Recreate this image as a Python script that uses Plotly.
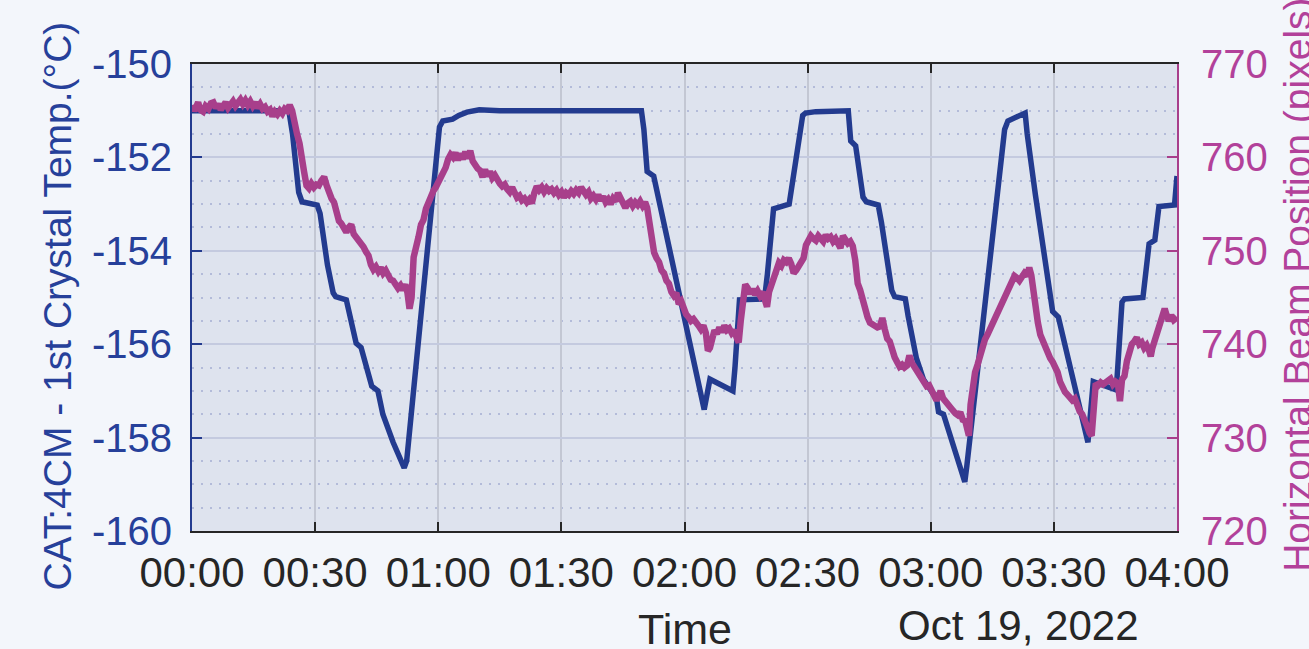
import pandas as pd
import plotly.graph_objects as go

# Crystal temperature (minutes after midnight, degC)
temp_min = [0, 23.6, 24.5, 26.0, 26.8, 30.5, 31.2, 33.0, 34.4, 35.0, 37.6, 38.4, 40.0, 41.2,
            42.5, 43.8, 45.3, 46.5, 49.0, 51.7, 52.3, 60.3, 61.1, 63.5, 65.0, 67.0, 70.0,
            75.0, 109.5, 110.1, 110.9, 112.5, 124.8, 126.2, 131.8, 132.3, 133.4, 139.5,
            140.2, 141.7, 145.5, 146.3, 148.8, 149.5, 152.0, 159.9, 160.5, 161.7, 162.3,
            163.5, 164.3, 167.2, 168.0, 170.5, 171.2, 173.8, 174.5, 176.5, 178.2, 180.5,
            181.3, 181.9, 183.1, 188.3, 188.8, 198.0, 198.8, 203.0, 203.5, 205.5, 209.7,
            211.1, 218.3, 219.6, 225.2, 226.6, 227.2, 231.7, 233.2, 234.6, 235.6, 239.4, 240.0]
temp_val = [-151.0, -151.0, -151.5, -152.75, -152.95, -153.02, -153.2, -154.3, -154.9, -154.98,
            -155.05, -155.4, -155.98, -156.07, -156.5, -156.9, -157.0, -157.5, -158.1, -158.65,
            -158.5, -151.35, -151.22, -151.18, -151.1, -151.03, -150.98, -151.0, -151.0,
            -151.4, -152.3, -152.4, -157.4, -156.75, -157.0, -156.5, -155.05, -155.03, -154.5,
            -153.1, -153.0, -152.5, -151.1, -151.05, -151.02, -151.0, -151.65, -151.75, -152.2,
            -152.85, -152.95, -153.02, -153.4, -154.85, -154.98, -155.03, -155.4, -156.3,
            -156.75, -157.05, -157.1, -157.45, -157.5, -158.95, -158.6, -151.4, -151.22,
            -151.05, -151.5, -152.8, -155.3, -155.42, -158.1, -156.8, -156.98, -155.1, -155.03,
            -155.0, -153.85, -153.77, -153.05, -153.02, -152.4]

# Horizontal beam position (minutes after midnight, pixels)
beam_min = [0, 0.5, 1, 1.5, 2, 2.7, 3.3, 4, 4.6, 5.2, 5.8, 6.4, 7, 7.6, 8.2, 8.8, 9.4, 10,
            10.6, 11.2, 11.8, 12.4, 13, 13.6, 14.2, 14.8, 15.4, 16, 16.6, 17.2, 17.8, 18.4,
            19, 19.6, 20.2, 20.8, 21.4, 22, 22.6, 23.2, 23.8, 24.4, 25, 25.6, 26.2, 26.8,
            27.3, 27.9, 28.5, 29.1, 29.7, 30.3, 30.9, 31.5, 32.2, 32.8, 33.4, 34.0, 34.6,
            35.2, 35.8, 36.4, 37.0, 37.6, 38.2, 38.8, 39.4, 40.0, 40.6, 41.2, 41.8, 42.4,
            43.0, 43.6, 44.2, 44.8, 45.4, 46.0, 46.6, 47.2, 47.8, 48.4, 49.0, 49.6, 50.2,
            50.8, 51.4, 52.0, 52.5, 53.0, 53.5, 54.0, 54.6, 55.2, 55.8, 56.4, 57.0, 57.6,
            58.2, 58.8, 59.4, 60.0, 60.6, 61.2, 61.8, 62.4, 63.0, 63.6, 64.2, 64.8, 65.4,
            66.0, 66.6, 67.2, 67.8, 68.4, 69.0, 69.6, 70.2, 70.8, 71.4, 72.0, 72.6, 73.2,
            73.8, 74.4, 75.0, 75.6, 76.2, 76.8, 77.4, 78.0, 78.6, 79.2, 79.8, 80.4, 81.0,
            81.6, 82.2, 82.8, 83.4, 84.0, 84.6, 85.2, 85.8, 86.4, 87.0, 87.6, 88.2, 88.8,
            89.4, 90.0, 90.6, 91.2, 91.8, 92.4, 93.0, 93.6, 94.2, 94.8, 95.4, 96.0, 96.6,
            97.2, 97.8, 98.4, 99.0, 99.6, 100.2, 100.8, 101.4, 102.0, 102.6, 103.2, 103.8,
            104.4, 105.0, 105.6, 106.2, 106.8, 107.4, 108.0, 108.6, 109.2, 109.8, 110.4,
            110.9, 111.4, 112.0, 112.6, 113.2, 113.8, 114.4, 115.0, 115.6, 116.2, 116.8,
            117.4, 118.0, 118.6, 119.2, 119.8, 120.4, 121.0, 121.6, 122.2, 122.8, 123.4,
            124.0, 124.6, 125.2, 125.7, 126.2, 126.7, 127.3, 127.9, 128.5, 129.1, 129.7,
            130.3, 130.9, 131.5, 132.1, 132.7, 133.2, 133.7, 134.3, 134.8, 135.4, 136.0,
            136.6, 137.2, 137.8, 138.4, 139.0, 139.6, 140.1, 140.6, 141.2, 141.8, 142.4,
            143.0, 143.6, 144.2, 144.8, 145.4, 146.0, 146.6, 147.2, 147.8, 148.4, 149.0,
            149.6, 150.2, 150.8, 151.4, 152.0, 152.6, 153.2, 153.8, 154.4, 155.0, 155.6,
            156.2, 156.8, 157.4, 158.0, 158.6, 159.2, 159.8, 160.4, 161.0, 161.6, 162.2,
            162.8, 163.4, 164.0, 164.6, 165.2, 165.8, 166.4, 167.0, 167.6, 168.2, 168.8,
            169.4, 170.0, 170.6, 171.2, 171.8, 172.4, 173.0, 173.6, 174.2, 174.8, 175.4,
            176.0, 176.6, 177.2, 177.8, 178.4, 179.0, 179.6, 180.2, 180.8, 181.4, 182.0,
            182.4, 183.0, 183.6, 184.2, 184.8, 185.4, 186.0, 186.6, 187.2, 187.8, 188.4,
            189.0, 189.3, 189.7, 190.3, 190.8, 191.4, 192.0, 192.6, 193.2, 193.8, 194.4,
            195.0, 195.6, 196.2, 196.8, 197.4, 198.0, 198.6, 199.2, 199.8, 200.4, 201.0,
            201.6, 202.2, 202.8, 203.4, 204.0, 204.5, 205.0, 205.5, 206.1, 206.7, 207.3,
            207.9, 208.5, 209.1, 209.7, 210.3, 210.9, 211.5, 212.1, 212.7, 213.3, 213.9,
            214.5, 215.1, 215.7, 216.3, 216.9, 217.5, 218.1, 218.7, 219.2, 219.7, 220.2,
            220.8, 221.4, 222.0, 222.6, 223.2, 223.8, 224.4, 225.0, 225.6, 226.1, 226.6,
            227.2, 227.8, 228.4, 229.0, 229.6, 230.2, 230.8, 231.4, 232.0, 232.6, 233.2,
            233.6, 234.0, 234.6, 235.2, 235.8, 236.4, 237.0, 237.4, 238.0, 238.6, 239.2, 240.0]
beam_val = [765.6, 765.0, 765.4, 765.9, 765.1, 764.9, 765.5, 765.2, 765.8, 765.9, 765.3, 765.7,
            765.1, 765.4, 765.9, 765.3, 765.6, 766.0, 765.5, 765.8, 766.2, 765.7, 766.1, 765.6,
            766.0, 765.5, 765.9, 765.3, 765.7, 765.2, 765.4, 764.9, 765.1, 764.4, 764.9, 764.6,
            765.0, 764.7, 765.2, 765.0, 765.6, 765.0, 763.5, 762.5, 761.5, 760.3, 758.5, 757.0,
            756.7, 757.2, 756.8, 757.1, 757.0, 757.5, 757.9, 757.0, 756.2, 755.6, 755.2, 754.0,
            753.2, 752.9, 752.3, 752.0, 752.5, 752.8, 751.8, 751.5, 751.2, 750.8, 750.4, 749.9,
            749.5, 748.5, 748.0, 748.3, 747.8, 748.2, 747.6, 747.9, 747.3, 746.9, 746.8, 746.4,
            746.0, 746.3, 745.8, 746.4, 745.5, 743.8, 745.0, 749.3, 750.2, 751.5, 752.8, 753.3,
            754.5, 755.3, 756.0, 756.4, 756.8, 757.3, 757.7, 758.2, 758.9, 759.8, 760.3, 760.0,
            760.5, 759.7, 760.4, 759.8, 760.6, 759.9, 760.7, 759.6, 759.0, 758.8, 758.6, 757.9,
            758.7, 758.0, 758.5, 757.8, 758.1, 757.5, 757.2, 756.9, 757.1, 756.6, 756.3, 756.8,
            756.0, 755.7, 755.9, 755.4, 755.6, 755.2, 755.5, 755.1, 756.2, 756.9, 756.5, 756.8,
            756.3, 756.7, 756.4, 756.6, 756.2, 756.5, 756.0, 756.3, 755.7, 756.2, 756.0, 756.4,
            756.1, 756.5, 756.2, 756.8, 756.4, 756.0, 756.3, 755.6, 755.9, 755.5, 756.0, 755.4,
            755.8, 755.2, 755.5, 755.0, 755.6, 755.3, 756.2, 755.6, 755.0, 754.6, 755.1, 755.3,
            754.8, 755.2, 754.9, 755.3, 754.8, 755.2, 754.6, 752.8, 750.9, 749.8, 749.2, 748.8,
            747.9, 747.6, 746.8, 746.5, 745.6, 745.2, 745.5, 744.3, 744.6, 743.7, 743.2, 742.9,
            742.5, 742.7, 742.2, 742.0, 741.6, 742.0, 741.2, 739.3, 739.6, 740.8, 741.5, 741.1,
            741.8, 741.3, 742.0, 741.5, 741.7, 741.2, 741.5, 740.7, 740.2, 742.5, 745.0, 746.4,
            746.0, 745.4, 745.9, 745.3, 745.7, 745.2, 745.6, 744.5, 744.0, 745.6, 746.4, 747.5,
            748.3, 748.7, 748.4, 749.0, 748.8, 749.2, 748.6, 747.6, 747.9, 748.3, 748.8, 749.2,
            750.6, 751.2, 751.6, 751.3, 751.1, 751.6, 751.2, 751.0, 751.7, 751.3, 751.5, 751.0,
            751.3, 750.8, 750.3, 751.6, 751.0, 750.8, 751.0, 750.5, 749.0, 746.5, 745.8, 744.6,
            743.3, 742.9, 742.3, 742.1, 742.0, 741.8, 741.9, 742.8, 741.6, 740.6, 740.3, 739.3,
            738.6, 738.1, 737.6, 737.8, 737.5, 737.7, 738.8, 738.0, 737.6, 737.0, 736.8, 736.2,
            735.9, 735.5, 735.6, 735.0, 734.4, 734.0, 734.5, 735.0, 734.2, 733.8, 733.5, 733.2,
            732.9, 732.6, 732.4, 732.7, 731.9, 731.8, 730.6, 730.2, 733.5, 735.8, 737.0, 737.8,
            738.9, 739.8, 740.5, 741.0, 741.6, 742.0, 742.6, 743.3, 743.8, 744.5, 744.9, 745.6,
            746.1, 746.6, 747.3, 747.1, 746.8, 747.2, 747.6, 747.3, 748.2, 747.4, 745.3, 743.8,
            742.3, 741.0, 740.3, 739.7, 739.2, 738.5, 738.1, 737.6, 737.0, 736.0, 735.3, 734.9,
            734.6, 734.3, 734.0, 734.2, 733.4, 732.8, 732.5, 732.0, 731.2, 730.5, 730.2, 733.0,
            735.8, 735.6, 735.9, 735.7, 735.9, 736.0, 736.3, 735.7, 736.0, 735.8, 733.9, 736.2,
            736.6, 738.2, 739.5, 740.0, 740.3, 740.7, 740.0, 740.2, 739.6, 739.9, 739.3, 738.7,
            739.6, 740.5, 741.0, 742.0, 742.6, 743.8, 743.2, 742.5, 743.1, 742.6, 742.9]

temp_ticks = [-160, -158, -156, -154, -152, -150]
temp_minor = [v / 2 for v in range(-320, -299) if v % 4 != 0]
beam_ticks = [720, 730, 740, 750, 760, 770]

start = pd.Timestamp("2022-10-19 00:00")
end = pd.Timestamp("2022-10-19 04:00")
temp_time = start + pd.to_timedelta(temp_min, unit="min")
beam_time = start + pd.to_timedelta(beam_min, unit="min")

BLUE = "#233B8F"
BLUE_TXT = "#26409A"
MAG = "#A83F8B"
MAG_TXT = "#B2419A"
DARK = "#262626"
FONT = "Liberation Sans, Arial, sans-serif"

fig = go.Figure()
fig.add_trace(go.Scatter(x=temp_time, y=temp_val, mode="lines",
                         line=dict(color=BLUE, width=5.5), yaxis="y"))
fig.add_trace(go.Scatter(x=beam_time, y=beam_val, mode="lines",
                         line=dict(color=MAG, width=6.5), yaxis="y2"))

fig.update_layout(
    width=1309, height=649,
    margin=dict(l=192, r=132, t=64, b=118),
    paper_bgcolor="#F3F6FB",
    plot_bgcolor="#DEE3EE",
    showlegend=False,
    font=dict(family=FONT),
    xaxis=dict(
        type="date", range=[start, end],
        tickformat="%H:%M", tick0=start, dtick=1800000,
        ticks="inside", ticklen=9, tickwidth=2, tickcolor=DARK,
        showline=True, linecolor=DARK, linewidth=2, mirror="ticks",
        showgrid=True, gridcolor="#C3C7D3", gridwidth=1.5,
        zeroline=False,
        tickfont=dict(size=42, color=DARK, family=FONT),
        ticklabelstandoff=4,
    ),
    yaxis=dict(
        range=[-160, -150],
        tickmode="array", tickvals=temp_ticks, ticktext=[str(v) for v in temp_ticks],
        ticks="inside", ticklen=10, tickwidth=2, tickcolor=BLUE,
        showline=True, linecolor=BLUE, linewidth=2,
        showgrid=True, gridcolor="#C4CADF", gridwidth=1.5,
        zeroline=False,
        tickfont=dict(size=40, color=BLUE_TXT, family=FONT),
        ticklabelstandoff=10,
        minor=dict(tickmode="array", tickvals=temp_minor, ticks="",
                   showgrid=True, gridcolor="#B3BBD9", gridwidth=1.5,
                   griddash="2px,7px"),
    ),
    yaxis2=dict(
        range=[720, 770], overlaying="y", side="right",
        tickmode="array", tickvals=beam_ticks,
        ticks="inside", ticklen=10, tickwidth=2, tickcolor=MAG,
        showline=True, linecolor=MAG, linewidth=2,
        showgrid=False, zeroline=False,
        tickfont=dict(size=40, color=MAG_TXT, family=FONT),
        ticklabelstandoff=14,
    ),
)

annotations = [
    dict(text="CAT:4CM - 1st Crystal Temp.(°C)", x=-0.1365, y=0.4818, textangle=-90,
         font=dict(size=39, color=BLUE_TXT, family=FONT)),
    dict(text="Horizontal Beam Position (pixels)", x=1.1228, y=0.527, textangle=-90,
         font=dict(size=39, color=MAG_TXT, family=FONT)),
    dict(text="Time", x=0.5005, y=-0.21,
         font=dict(size=43, color=DARK, family=FONT)),
    dict(text="Oct 19, 2022", x=0.839, y=-0.2034,
         font=dict(size=42, color=DARK, family=FONT)),
]
for a in annotations:
    fig.add_annotation(xref="paper", yref="paper", showarrow=False,
                       xanchor="center", yanchor="middle", **a)

fig.write_html("out.html")
